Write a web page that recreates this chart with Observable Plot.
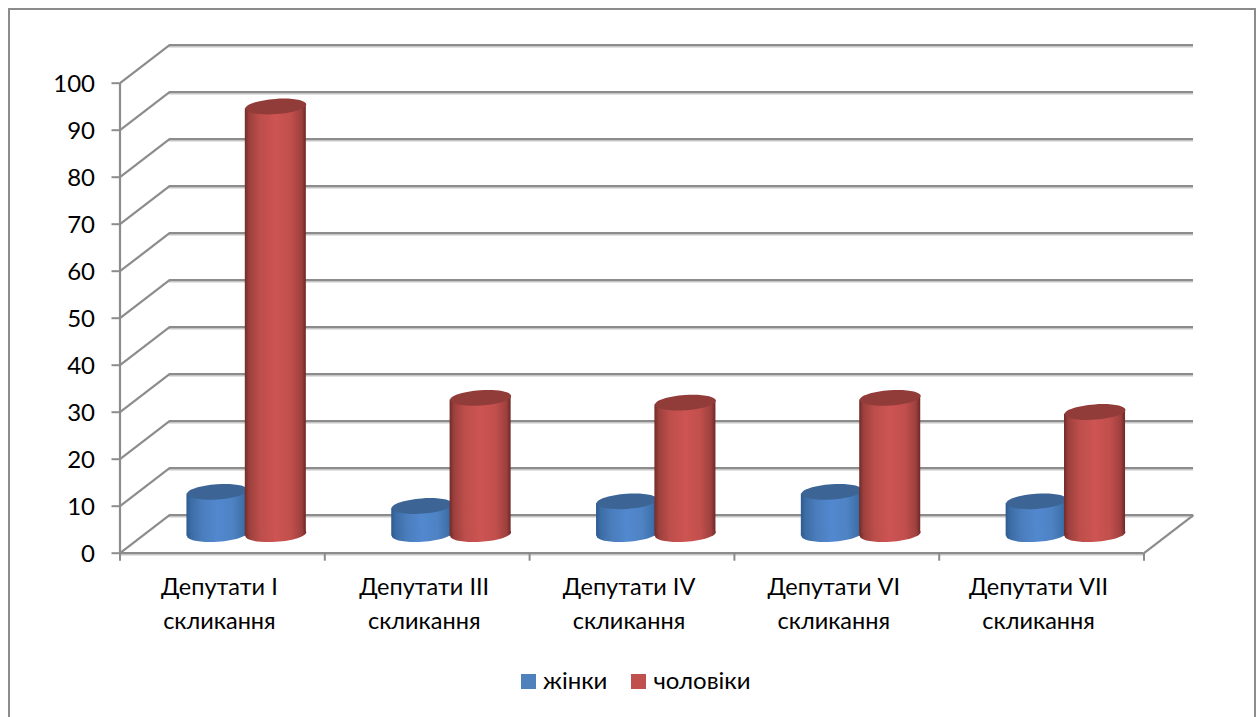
<!DOCTYPE html>
<html lang="uk">
<head>
<meta charset="utf-8">
<script src="https://cdn.jsdelivr.net/npm/d3@7"></script>
<script src="https://cdn.jsdelivr.net/npm/@observablehq/plot@0.6"></script>
<style>
  html, body { margin: 0; padding: 0; background: #fff; width: 1259px; height: 717px; overflow: hidden; }
  body { position: relative; font-family: Lato, "Open Sans", "Noto Sans", sans-serif; }
  #frame { position: absolute; left: 8px; top: 8px; width: 1248px; height: 740px; border: 2px solid #8c8c8c; box-sizing: border-box; pointer-events: none; }
  #chart svg { display: block; }
  .cyl rect { transform-box: fill-box; transform-origin: center; transform: skewY(-4deg); }
  #legend { position: absolute; left: 521px; top: 662px; height: 34px; display: flex; align-items: center; font-size: 24px; color: #000; white-space: nowrap; }
  #legend i { display: inline-block; width: 15px; height: 15px; margin-right: 7px; }
  #legend span { margin-right: 24px; }
</style>
</head>
<body>
<div id="chart"></div>
<div id="legend"></div>
<div id="frame"></div>
<script>
const categories = ["Депутати I\nскликання", "Депутати III\nскликання", "Депутати IV\nскликання", "Депутати VI\nскликання", "Депутати VII\nскликання"];
const women = [9, 6, 7, 9, 7];
const men = [91, 29, 28, 29, 26];
const yTicks = [0, 10, 20, 30, 40, 50, 60, 70, 80, 90, 100];
const xTicks = [0, 1, 2, 3, 4, 5];
const seriesNames = ["жінки", "чоловіки"];
const legendColors = ["#4f81bd", "#c0504d"];

// Oblique depth of the chart box, in data units of each scale
const depthX = 0.2417, depthY = 8.085;
const barWidth = 0.298;
const gray = "#8c8c8c";

const rows = (values, offset) => values.map((v, i) => ({v, c: i + 0.5 + depthX / 2 - 0.01 + offset}));
const womenRows = rows(women, -0.135);
const menRows = rows(men, 0.15);

// Ellipse symbol, slightly tilted, for cylinder caps
const ellipse = {
  draw(ctx, size) {
    const rx = Math.sqrt(size / Math.PI), ry = rx * 0.25, a = -4 * Math.PI / 180, k = 0.5523;
    const p = (x, y) => [x * Math.cos(a) - y * Math.sin(a), x * Math.sin(a) + y * Math.cos(a)];
    ctx.moveTo(...p(rx, 0));
    ctx.bezierCurveTo(...p(rx, k * ry), ...p(k * rx, ry), ...p(0, ry));
    ctx.bezierCurveTo(...p(-k * rx, ry), ...p(-rx, k * ry), ...p(-rx, 0));
    ctx.bezierCurveTo(...p(-rx, -k * ry), ...p(-k * rx, -ry), ...p(0, -ry));
    ctx.bezierCurveTo(...p(k * rx, -ry), ...p(rx, -k * ry), ...p(rx, 0));
    ctx.closePath();
  }
};

function gradients() {
  const defs = d3.create("svg:defs");
  const add = (id, stops) => {
    const g = defs.append("linearGradient").attr("id", id).attr("x1", 0).attr("x2", 1).attr("y1", 0).attr("y2", 0);
    stops.forEach(([o, c]) => g.append("stop").attr("offset", o).attr("stop-color", c));
  };
  add("gBlue", [[0, "#2d5a8e"], [0.07, "#3c6ca5"], [0.25, "#4a7dbc"], [0.5, "#5288cf"], [0.75, "#4e83c4"], [0.93, "#3f70aa"], [1, "#2d5a8e"]]);
  add("gRed", [[0, "#702b29"], [0.07, "#9c403d"], [0.25, "#bd4e4b"], [0.5, "#cd5452"], [0.75, "#c14f4c"], [0.93, "#9e403e"], [1, "#6c2826"]]);
  return defs.node();
}

function cylinder(data, fillId, capColor) {
  return [
    Plot.rect(data, {x1: d => d.c - barWidth / 2, x2: d => d.c + barWidth / 2, y1: depthY / 2, y2: d => d.v + depthY / 2, fill: `url(#${fillId})`, className: "cyl"}),
    Plot.dot(data, {x: "c", y: depthY / 2, r: 30.5, symbol: ellipse, fill: `url(#${fillId})`}),
    Plot.dot(data, {x: "c", y: d => d.v + depthY / 2, r: 30.5, symbol: ellipse, fill: capColor})
  ];
}

const chart = Plot.plot({
  width: 1259,
  height: 650,
  marginLeft: 119.5, marginRight: 115.5, marginTop: 82.7, marginBottom: 97.3,
  style: {background: "transparent", fontFamily: 'Lato, "Open Sans", "Noto Sans", sans-serif', overflow: "visible"},
  x: {type: "linear", domain: [0, 5]},
  y: {type: "linear", domain: [0, 100]},
  marks: [
    gradients,
    // back wall
    Plot.ruleY(yTicks, {y: d => d + depthY, x1: depthX, x2: 5 + depthX, stroke: "#d8d8d8", strokeWidth: 2, dy: 1.5}),
    Plot.ruleY(yTicks, {y: d => d + depthY, x1: depthX, x2: 5 + depthX, stroke: gray, strokeWidth: 2.2}),
    // side wall
    Plot.link(yTicks, {x1: 0, y1: d => d, x2: depthX, y2: d => d + depthY, stroke: gray, strokeWidth: 2.2}),
    // floor
    Plot.link([5], {x1: d => d, y1: 0, x2: d => d + depthX, y2: depthY, stroke: gray, strokeWidth: 2.2}),
    Plot.ruleY([0], {x1: 0, x2: 5, stroke: "#d8d8d8", strokeWidth: 2, dy: 1.5}),
    Plot.ruleY([0], {x1: 0, x2: 5, stroke: gray, strokeWidth: 2.2}),
    Plot.ruleX([0], {y1: 0, y2: 100, stroke: gray, strokeWidth: 2.2}),
    // axes
    Plot.axisY({ticks: yTicks, tickSize: 8, text: null, stroke: gray, strokeWidth: 2, strokeOpacity: 1, label: null, anchor: "left"}),
    Plot.axisY({ticks: yTicks, tickSize: 0, tickPadding: 25, dy: 1.5, fill: "#000", fontSize: 24, label: null, anchor: "left"}),
    Plot.axisX({ticks: xTicks, tickSize: 8, tickFormat: () => "", stroke: gray, strokeWidth: 2, strokeOpacity: 1, label: null, anchor: "bottom"}),
    Plot.text(categories, {x: (d, i) => i + 0.5, y: 0, text: d => d, dx: -3, dy: 18, lineAnchor: "top", lineHeight: 1.45, fontSize: 23.5, fill: "#000"}),
    // cylinders
    ...cylinder(womenRows, "gBlue", "#3c6595"),
    ...cylinder(menRows, "gRed", "#923c3a")
  ]
});
document.getElementById("chart").append(chart);

const legend = d3.select("#legend");
seriesNames.forEach((name, i) => {
  const s = legend.append("span");
  s.append("i").style("background", legendColors[i]);
  s.append("tspan").text(name);
});
</script>
</body>
</html>
